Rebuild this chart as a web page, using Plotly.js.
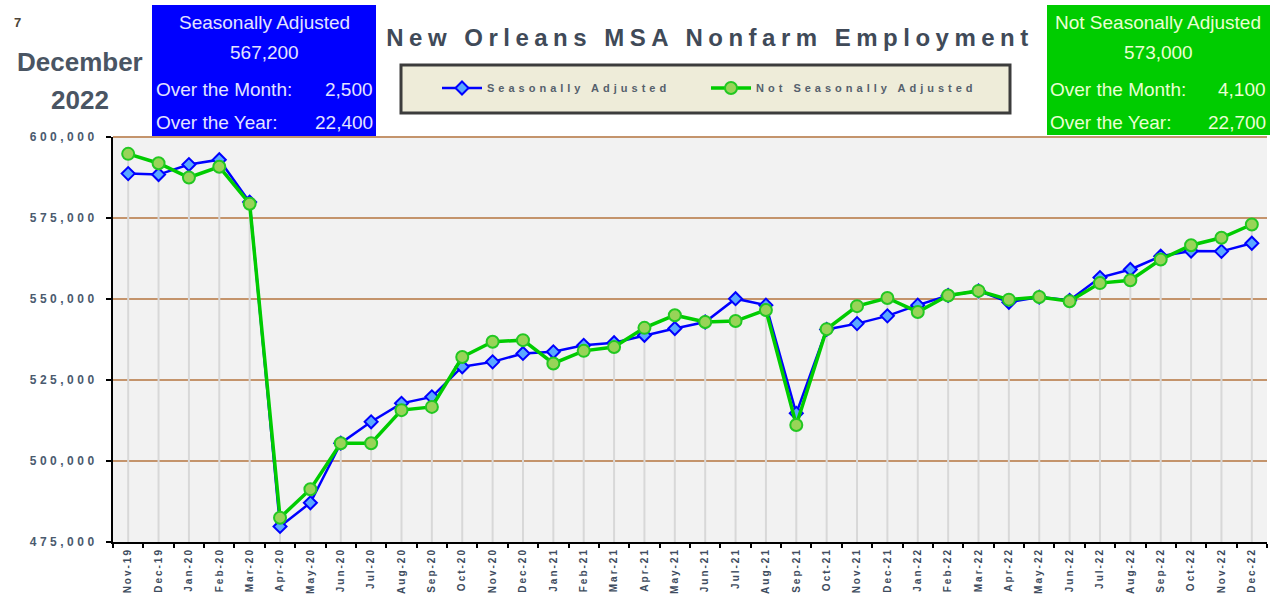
<!DOCTYPE html>
<html>
<head>
<meta charset="utf-8">
<script src="https://cdn.plot.ly/plotly-3.0.1.min.js"></script>
<style>
  html, body { margin: 0; padding: 0; background: #ffffff; }
  #chart { width: 1276px; height: 599px; }
  .gtitle { letter-spacing: 5.5px; }
  .legendtext { letter-spacing: 4px; }
  .ytick text { letter-spacing: 3.5px; }
  .xtick text { letter-spacing: 2px; }
</style>
</head>
<body>
<div id="chart"></div>
<script>
// ---- data ----
const months = ['Nov-19','Dec-19','Jan-20','Feb-20','Mar-20','Apr-20','May-20','Jun-20','Jul-20','Aug-20','Sep-20','Oct-20','Nov-20','Dec-20',
  'Jan-21','Feb-21','Mar-21','Apr-21','May-21','Jun-21','Jul-21','Aug-21','Sep-21','Oct-21','Nov-21','Dec-21',
  'Jan-22','Feb-22','Mar-22','Apr-22','May-22','Jun-22','Jul-22','Aug-22','Sep-22','Oct-22','Nov-22','Dec-22'];
const seasonallyAdjusted = [588700, 588400, 591500, 593000, 579900, 479800, 487100, 505500, 512100, 517800, 519800, 529100, 530600, 533200,
  533700, 535700, 536500, 538800, 540900, 542900, 550100, 548100, 514700, 540600, 542400, 544800,
  548100, 551100, 552500, 549000, 550600, 549600, 556600, 559100, 563200, 564800, 564700, 567200];
const notSeasonallyAdjusted = [594800, 591900, 587500, 590800, 579400, 482500, 491300, 505500, 505500, 515700, 516700, 532100, 536800, 537300,
  530100, 534000, 535200, 541100, 545000, 542900, 543200, 546600, 511100, 540700, 547800, 550300,
  546000, 551100, 552500, 549800, 550600, 549300, 554900, 555800, 562200, 566600, 568900, 573000];
const yTicks = [475000, 500000, 525000, 550000, 575000, 600000];
const seriesNames = ['Seasonally Adjusted', 'Not Seasonally Adjusted'];
const saBox = ['Seasonally Adjusted', '567,200', 'Over the Month:', '2,500', 'Over the Year:', '22,400'];
const nsaBox = ['Not Seasonally Adjusted', '573,000', 'Over the Month:', '4,100', 'Over the Year:', '22,700'];
const pageNo = '7';
const periodLabel = ['December', '2022'];
const chartTitle = 'New Orleans MSA Nonfarm Employment';

// ---- layout helpers (pixel -> paper) ----
const L = 113, R = 1267, T = 137, B = 542;
const px = x => (x - L) / (R - L);
const py = y => (B - y) / (B - T);
const yMin = yTicks[0], yMax = yTicks[yTicks.length - 1];

const tops = months.map((m, i) => Math.max(seasonallyAdjusted[i], notSeasonallyAdjusted[i]));

const traces = [
  { // drop lines from the highest point down to the axis
    x: months, y: tops, type: 'scatter', mode: 'markers',
    marker: { size: 1, color: 'rgba(0,0,0,0)' },
    error_y: { type: 'data', symmetric: false, array: tops.map(() => 0),
      arrayminus: tops.map(v => v - yMin), width: 0, thickness: 2, color: '#d8d8d8' },
    showlegend: false, hoverinfo: 'skip'
  },
  {
    x: months, y: seasonallyAdjusted, name: seriesNames[0], type: 'scatter', mode: 'lines+markers',
    line: { color: '#0000ff', width: 2.5 },
    marker: { symbol: 'diamond', size: 10, color: '#5aa8ff', line: { color: '#0000ff', width: 2 } }
  },
  {
    x: months, y: notSeasonallyAdjusted, name: seriesNames[1], type: 'scatter', mode: 'lines+markers',
    line: { color: '#00cc00', width: 3.5 },
    marker: { symbol: 'circle', size: 12, color: '#98d458', line: { color: '#22c822', width: 2 } }
  }
];

const sans = 'Liberation Sans, Arial, sans-serif';
const boxFontSize = 19;
function ann(text, x, y, xanchor, font) {
  return { text: text, xref: 'paper', yref: 'paper', x: px(x), y: py(y), xanchor: xanchor, yanchor: 'middle',
    showarrow: false, font: font };
}
const blueFont = { family: sans, size: boxFontSize, color: '#e4e4ff' };
const greenFont = { family: sans, size: boxFontSize, color: '#eaffd4' };
const headFont = { family: sans, size: 26, color: '#4a5563', weight: 'bold' };

const annotations = [
  ann(pageNo, 12, 22, 'left', { family: sans, size: 13, color: '#4d4438', weight: 'bold' }),
  ann(periodLabel[0], 80, 62, 'center', headFont),
  ann(periodLabel[1], 80, 100, 'center', headFont),
  ann(saBox[0], 264, 22, 'center', blueFont),
  ann(saBox[1], 264, 53, 'center', blueFont),
  ann(saBox[2], 154, 89, 'left', blueFont),
  ann(saBox[3], 375, 89, 'right', blueFont),
  ann(saBox[4], 154, 122, 'left', blueFont),
  ann(saBox[5], 375, 122, 'right', blueFont),
  ann(nsaBox[0], 1158, 22, 'center', greenFont),
  ann(nsaBox[1], 1158, 53, 'center', greenFont),
  ann(nsaBox[2], 1048, 89, 'left', greenFont),
  ann(nsaBox[3], 1268, 89, 'right', greenFont),
  ann(nsaBox[4], 1048, 122, 'left', greenFont),
  ann(nsaBox[5], 1268, 122, 'right', greenFont)
];

const shapes = [
  { type: 'rect', xref: 'paper', yref: 'paper', x0: px(152), x1: px(376), y0: py(5), y1: py(136),
    fillcolor: '#0000ff', line: { width: 0 }, layer: 'above' },
  { type: 'rect', xref: 'paper', yref: 'paper', x0: px(1047), x1: px(1270), y0: py(5), y1: py(135),
    fillcolor: '#00cc00', line: { width: 0 }, layer: 'above' },
  { type: 'rect', xref: 'paper', yref: 'paper', x0: px(401), x1: px(1010), y0: py(65), y1: py(113),
    fillcolor: '#eeecd9', line: { color: '#3c3c3c', width: 3 }, layer: 'below' },
  { type: 'line', xref: 'paper', yref: 'paper', x0: 0, x1: 1, y0: 1, y1: 1,
    line: { color: '#c4946c', width: 2 }, layer: 'below' }
];

const layout = {
  width: 1276, height: 599,
  margin: { l: L, r: 1276 - R, t: T, b: 599 - B, pad: 0 },
  paper_bgcolor: '#ffffff', plot_bgcolor: '#f2f2f2',
  title: { text: chartTitle, x: px(710), xref: 'paper', xanchor: 'center', y: 1 - 38 / 599, yref: 'container', yanchor: 'middle',
    font: { family: sans, size: 24, color: '#404a58', weight: 'bold' } },
  showlegend: true,
  legend: { orientation: 'h', x: px(437), xanchor: 'left', y: py(88), yanchor: 'middle',
    bgcolor: 'rgba(0,0,0,0)', borderwidth: 0, entrywidth: 214, itemwidth: 40,
    font: { family: sans, size: 11, color: '#55606c', weight: 'bold' } },
  xaxis: { type: 'category', categoryorder: 'array', categoryarray: months, range: [-0.5, months.length - 0.5],
    showgrid: false, zeroline: false, showline: true, linecolor: '#000000', linewidth: 2,
    ticks: 'outside', tickson: 'boundaries', ticklen: 4, tickwidth: 2, tickcolor: '#000000',
    tickangle: -90, automargin: false,
    tickfont: { family: sans, size: 10, color: '#3e4c5e', weight: 'bold' } },
  yaxis: { range: [yMin, yMax], tickvals: yTicks, tickformat: ',', showgrid: true, gridcolor: '#c4946c', gridwidth: 2,
    zeroline: false, showline: true, linecolor: '#000000', linewidth: 2,
    ticks: 'outside', ticklen: 5, tickwidth: 2, tickcolor: '#000000', automargin: false, ticklabelstandoff: 6,
    tickfont: { family: sans, size: 12, color: '#4a5a6e', weight: 'bold' } },
  annotations: annotations,
  shapes: shapes,
  hovermode: false
};

Plotly.newPlot('chart', traces, layout, { staticPlot: true, displayModeBar: false });
</script>
</body>
</html>
